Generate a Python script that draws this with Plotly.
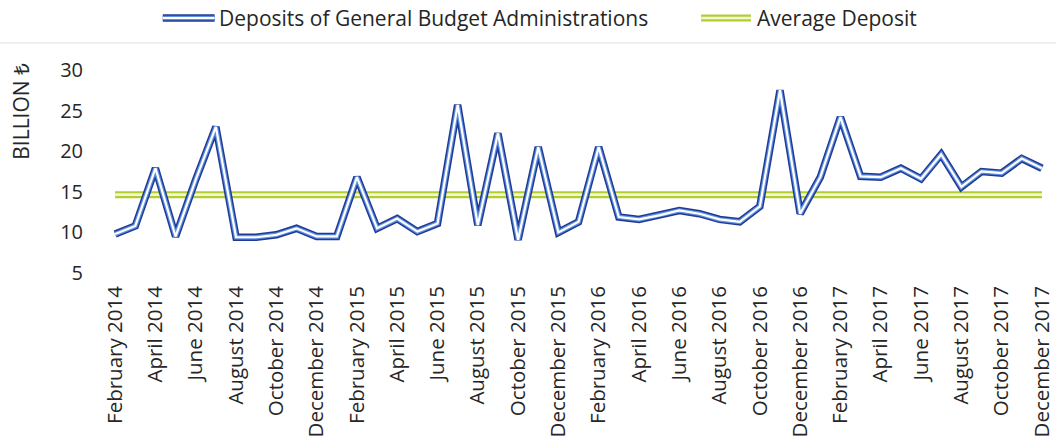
import pandas as pd
import plotly.graph_objects as go

# Monthly deposits of general budget administrations (billion TRY), Feb 2014 - Dec 2017
months = [d.strftime("%B %Y") for d in pd.date_range("2014-02-01", periods=47, freq="MS")]
deposits = [
    9.8, 10.8, 17.9, 9.5, 16.5, 23.0, 9.4, 9.4, 9.7, 10.5, 9.5,            # 2014
    9.5, 16.8, 10.5, 11.7, 10.1, 11.1, 25.7, 10.9, 22.2, 9.1, 20.5, 10.0,  # 2015
    11.3, 20.5, 11.9, 11.6, 12.1, 12.7, 12.3, 11.6, 11.3, 13.2, 27.5, 12.3,  # 2016
    16.8, 24.2, 16.9, 16.8, 17.9, 16.6, 19.6, 15.6, 17.5, 17.3, 19.1, 17.9,  # 2017
]
average_deposit = 14.65
tick_labels = months[::2]
y_ticks = [5, 10, 15, 20, 25, 30]

series_name = "Deposits of General Budget Administrations"
avg_name = "Average Deposit"

FONT = "Open Sans"
TEXT = "#262626"

BLUE_LAYERS = [(7.5, "#1f3a93"), (4.6, "#5f8fe0"), (2.2, "#ffffff")]
GREEN_LAYERS = [(7, "#b3cc2e"), (2.6, "#f1f6d8")]

fig = go.Figure()

# Outlined ("double") line effect: wide dark stroke, lighter stroke, white core
avg_values = [average_deposit] * len(months)
for width, color in GREEN_LAYERS:
    fig.add_trace(go.Scatter(x=months, y=avg_values, mode="lines", name=avg_name,
                             line=dict(color=color, width=width), showlegend=False,
                             hoverinfo="skip"))
for width, color in BLUE_LAYERS:
    fig.add_trace(go.Scatter(x=months, y=deposits, mode="lines", name=series_name,
                             line=dict(color=color, width=width), showlegend=False,
                             hoverinfo="skip"))

# Plot-area geometry in pixels, used to place the hand-drawn legend
L, R, T, B = 95, 1055, 70, 273
W, H = R - L, B - T


def px(xp):
    return (xp - L) / W


def py(yp):
    return (B - yp) / H


shapes = []
annotations = []


def legend_symbol(x0, x1, y, layers):
    for width, color in layers:
        shapes.append(dict(type="line", xref="paper", yref="paper",
                           x0=px(x0), x1=px(x1), y0=py(y), y1=py(y),
                           line=dict(color=color, width=width)))


legend_symbol(163, 215, 18, BLUE_LAYERS)
legend_symbol(703, 753, 18, GREEN_LAYERS)
annotations.append(dict(xref="paper", yref="paper", x=px(217), y=py(18),
                        xanchor="left", yanchor="middle", showarrow=False,
                        text=series_name, font=dict(family=FONT, size=21, color=TEXT)))
annotations.append(dict(xref="paper", yref="paper", x=px(757), y=py(18),
                        xanchor="left", yanchor="middle", showarrow=False,
                        text=avg_name, font=dict(family=FONT, size=21, color=TEXT)))

# faint separator under the legend band
shapes.append(dict(type="line", xref="paper", yref="paper", x0=px(0), x1=px(1059),
                   y0=py(43), y1=py(43), line=dict(color="#efefef", width=2)))

# rotated unit label at the top of the value axis
annotations.append(dict(xref="paper", yref="paper", x=px(21), y=py(61),
                        xanchor="center", yanchor="top", showarrow=False,
                        textangle=-90, text="BILLION ₺",
                        font=dict(family=FONT, size=21, color=TEXT)))

fig.update_layout(
    width=1059, height=448, autosize=False,
    margin=dict(l=L, r=1059 - R, t=T, b=448 - B),
    paper_bgcolor="white", plot_bgcolor="white",
    showlegend=False,
    shapes=shapes, annotations=annotations,
    font=dict(family=FONT, color=TEXT),
)
fig.update_xaxes(
    type="category", range=[-1, 46.5],
    tickmode="array", tickvals=tick_labels, ticktext=tick_labels,
    tickangle=-90, tickfont=dict(family=FONT, size=20.5, color=TEXT),
    showgrid=False, zeroline=False, showline=False, ticks="",
    ticklabelstandoff=8,
)
fig.update_yaxes(
    range=[5, 30], tickmode="array", tickvals=y_ticks,
    tickfont=dict(family=FONT, size=20, color=TEXT),
    showgrid=False, zeroline=False, showline=False, ticks="",
    ticklabelstandoff=11,
)

fig.write_html("out.html")
